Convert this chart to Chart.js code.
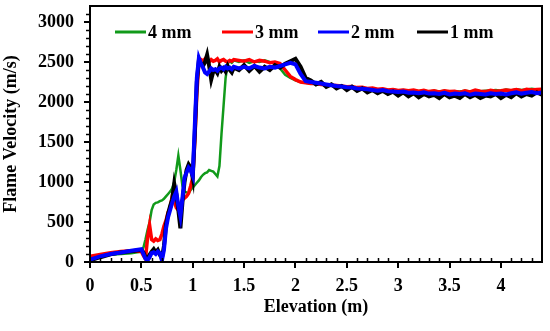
<!DOCTYPE html>
<html>
<head>
<meta charset="utf-8">
<script src="https://cdn.jsdelivr.net/npm/chart.js@4.4.1/dist/chart.umd.min.js"></script>
<style>
    html, body { margin: 0; padding: 0; background: #fff; }
</style>
</head>
<body>
<canvas id="grafica" width="550" height="331"></canvas>
<script>
// Elevation (m) shared by the four runs
const elevacion = [
    0, 0.1, 0.2, 0.3, 0.4, 0.5,
    0.52, 0.54, 0.56, 0.58, 0.6, 0.62, 0.64, 0.66, 0.68, 0.7,
    0.72, 0.74, 0.76, 0.78, 0.8, 0.82, 0.84, 0.86, 0.88, 0.9,
    0.92, 0.94, 0.96, 0.98, 1.0, 1.02, 1.04, 1.06, 1.08, 1.1,
    1.12, 1.14, 1.16, 1.18, 1.2, 1.22, 1.24, 1.26, 1.28, 1.3,
    1.32, 1.34, 1.36, 1.38, 1.4,
    1.45, 1.5, 1.55, 1.6, 1.65, 1.7, 1.75, 1.8, 1.85, 1.9,
    1.95, 2.0, 2.05, 2.1, 2.15, 2.2, 2.25, 2.3, 2.35, 2.4,
    2.45, 2.5, 2.55, 2.6, 2.65, 2.7, 2.75, 2.8, 2.85, 2.9,
    2.95, 3.0, 3.05, 3.1, 3.15, 3.2, 3.25, 3.3, 3.35, 3.4,
    3.45, 3.5, 3.55, 3.6, 3.65, 3.7, 3.75, 3.8, 3.85, 3.9,
    3.95, 4.0, 4.05, 4.1, 4.15, 4.2, 4.25, 4.3, 4.35, 4.4,
];

// Flame velocity (m/s)
const vel4mm = [
    40, 70, 90, 100, 110, 130,
    180, 280, 400, 500, 650, 720, 740, 745, 760, 770,
    790, 820, 850, 880, 920, 1000, 1150, 1330, 1150, 950,
    880, 870, 865, 900, 930, 960, 990, 1020, 1060, 1090,
    1110, 1120, 1150, 1140, 1130, 1100, 1070, 1200, 1600, 1950,
    2300, 2480, 2510, 2490, 2520,
    2500, 2520, 2490, 2510, 2500, 2520, 2500, 2490, 2420, 2340,
    2300, 2270, 2250, 2240, 2230, 2225, 2220, 2210, 2205, 2200,
    2195, 2190, 2185, 2180, 2175, 2170, 2165, 2160, 2160, 2150,
    2155, 2145, 2150, 2140, 2145, 2135, 2145, 2130, 2140, 2130,
    2140, 2125, 2135, 2130, 2140, 2130, 2145, 2135, 2140, 2145,
    2150, 2140, 2155, 2145, 2160, 2150, 2155, 2165, 2155, 2160,
];
const vel3mm = [
    70, 95, 115, 130, 140, 130,
    80, 40, 300, 460, 280, 260, 290, 270, 280, 350,
    450, 520, 620, 680, 820, 760, 680, 650, 720, 780,
    800, 820, 860, 950, 1050, 1500, 2100, 2500, 2530, 2510,
    2540, 2520, 2500, 2530, 2510, 2520, 2540, 2500, 2520, 2530,
    2510, 2500, 2520, 2510, 2530,
    2520, 2510, 2530, 2500, 2520, 2510, 2490, 2500, 2480, 2400,
    2320, 2280, 2250, 2240, 2230, 2230, 2220, 2215, 2210, 2205,
    2200, 2190, 2195, 2180, 2185, 2170, 2175, 2160, 2165, 2150,
    2155, 2145, 2150, 2140, 2150, 2135, 2145, 2130, 2140, 2125,
    2140, 2130, 2135, 2120, 2140, 2125, 2150, 2135, 2130, 2145,
    2135, 2140, 2150, 2145, 2155, 2140, 2160, 2150, 2155, 2160,
];
const vel2mm = [
    30, 70, 100, 120, 140, 160,
    100, 40, 20, 60, 110, 120, 100, 130, 110, 20,
    150, 420, 560, 650, 740, 820, 880, 700, 570, 800,
    1050, 1120, 1180, 1150, 1080, 1700, 2300, 2550, 2480, 2430,
    2370, 2350, 2380, 2420, 2400, 2410, 2390, 2420, 2430, 2410,
    2440, 2420, 2430, 2410, 2440,
    2420, 2440, 2420, 2450, 2430, 2420, 2440, 2430, 2450, 2470,
    2490, 2470, 2350, 2260, 2250, 2240, 2230, 2220, 2210, 2200,
    2195, 2185, 2180, 2170, 2165, 2160, 2150, 2140, 2150, 2135,
    2130, 2125, 2130, 2115, 2120, 2110, 2120, 2105, 2110, 2100,
    2115, 2095, 2105, 2100, 2110, 2090, 2105, 2100, 2095, 2110,
    2100, 2105, 2095, 2110, 2120, 2105, 2115, 2125, 2110, 2120,
];
const vel1mm = [
    20, 60, 95, 120, 135, 150,
    120, 60, 40, 90, 130, 160, 120, 150, 90, 50,
    200, 470, 600, 700, 780, 980, 850, 650, 420, 750,
    1000, 1150, 1220, 1180, 1050, 1600, 2250, 2520, 2480, 2450,
    2500, 2590, 2450, 2280, 2380, 2400, 2360, 2440, 2390, 2420,
    2380, 2450, 2400, 2370, 2430,
    2400, 2460, 2390, 2450, 2380, 2440, 2400, 2460, 2430, 2480,
    2510, 2540, 2440, 2300, 2270, 2220, 2250, 2190, 2220, 2170,
    2200, 2150, 2190, 2140, 2170, 2120, 2150, 2110, 2140, 2100,
    2130, 2080, 2120, 2070, 2110, 2060, 2100, 2070, 2090, 2050,
    2100, 2060, 2080, 2050, 2100, 2060, 2090, 2050, 2080, 2070,
    2100, 2050, 2090, 2060, 2110, 2070, 2100, 2080, 2120, 2090,
];

const etiquetas = ["4 mm", "3 mm", "2 mm", "1 mm"];
const ticksX = [0, 0.5, 1, 1.5, 2, 2.5, 3, 3.5, 4];
const ticksY = [0, 500, 1000, 1500, 2000, 2500, 3000];

const colores = ["#119a1a", "#ff0000", "#0000ff", "#000000"];
const series = [vel4mm, vel3mm, vel2mm, vel1mm];
const grosores = [2.5, 3.5, 4, 4];
const ordenes = [4, 3, 1, 2]; // blue on top, then black

const fuente = { family: '"Liberation Serif", "Times New Roman", serif', weight: 'bold', size: 18 };

function puntos(valores) {
    return elevacion.map((x, i) => ({ x: x, y: valores[i] }));
}

const datasets = series.map((valores, i) => ({
    label: etiquetas[i],
    data: puntos(valores),
    borderColor: colores[i],
    backgroundColor: colores[i],
    borderWidth: grosores[i],
    pointRadius: 0,
    tension: 0,
    order: ordenes[i],
}));

// frame, minor ticks and the in-plot legend
const extras = {
    id: 'extras',
    afterDraw(chart) {
        const ctx = chart.ctx;
        const a = chart.chartArea;
        const sx = chart.scales.x;
        const sy = chart.scales.y;
        ctx.save();
        ctx.strokeStyle = '#000';
        ctx.lineWidth = 2;
        ctx.strokeRect(a.left, a.top, a.right - a.left, a.bottom - a.top);

        ctx.lineWidth = 1.5;
        ctx.beginPath();
        for (let r = 1; r < 44; r++) {
            if (r % 5 === 0) continue;
            const px = Math.round(sx.getPixelForValue(r / 10)) + 0.5;
            ctx.moveTo(px, a.bottom);
            ctx.lineTo(px, a.bottom - 4);
        }
        for (let v = 100; v < 3200; v += 100) {
            if (v % 500 === 0) continue;
            const py = Math.round(sy.getPixelForValue(v)) + 0.5;
            ctx.moveTo(a.left, py);
            ctx.lineTo(a.left - 4, py);
        }
        ctx.stroke();

        // legend
        const inicios = [115, 222, 318, 417];
        const yLeyenda = 32;
        ctx.font = 'bold 18px "Liberation Serif", "Times New Roman", serif';
        ctx.textBaseline = 'middle';
        ctx.textAlign = 'left';
        chart.data.datasets.forEach((ds, i) => {
            const x0 = inicios[i];
            ctx.strokeStyle = ds.borderColor;
            ctx.lineWidth = 3;
            ctx.beginPath();
            ctx.moveTo(x0, yLeyenda);
            ctx.lineTo(x0 + 31, yLeyenda);
            ctx.stroke();
            ctx.fillStyle = '#000';
            ctx.fillText(ds.label, x0 + 33, yLeyenda + 1);
        });
        ctx.restore();
    }
};

new Chart(document.getElementById('grafica'), {
    type: 'line',
    data: { datasets: datasets },
    options: {
        responsive: false,
        animation: false,
        layout: { padding: { top: 6, right: 8, left: 0, bottom: 0 } },
        plugins: { legend: { display: false }, tooltip: { enabled: false } },
        scales: {
            x: {
                type: 'linear',
                min: 0,
                max: 4.4,
                afterBuildTicks: s => { s.ticks = ticksX.map(v => ({ value: v })); },
                ticks: {
                    color: '#000',
                    font: fuente,
                    padding: 8,
                    maxRotation: 0,
                    autoSkip: false,
                    callback: v => String(v),
                },
                grid: { display: true, drawOnChartArea: false, tickLength: 6, color: '#000', lineWidth: 2 },
                border: { display: true, color: '#000', width: 2 },
                title: { display: true, text: 'Elevation (m)', color: '#000', font: fuente, padding: { top: 0, bottom: 13 } },
                afterFit: s => { s.height = 69; s.paddingLeft = 0; s.paddingRight = 0; },
            },
            y: {
                type: 'linear',
                min: 0,
                max: 3200,
                afterBuildTicks: s => { s.ticks = ticksY.map(v => ({ value: v })); },
                ticks: {
                    color: '#000',
                    font: fuente,
                    padding: 10,
                    autoSkip: false,
                    callback: v => String(v),
                },
                grid: { display: true, drawOnChartArea: false, tickLength: 6, color: '#000', lineWidth: 2 },
                border: { display: true, color: '#000', width: 2 },
                title: { display: true, text: 'Flame Velocity (m/s)', color: '#000', font: fuente, padding: { top: 1, bottom: 0 } },
                afterFit: s => { s.width = 90; s.paddingTop = 0; s.paddingBottom = 0; },
            },
        },
    },
    plugins: [extras],
});
</script>
</body>
</html>
